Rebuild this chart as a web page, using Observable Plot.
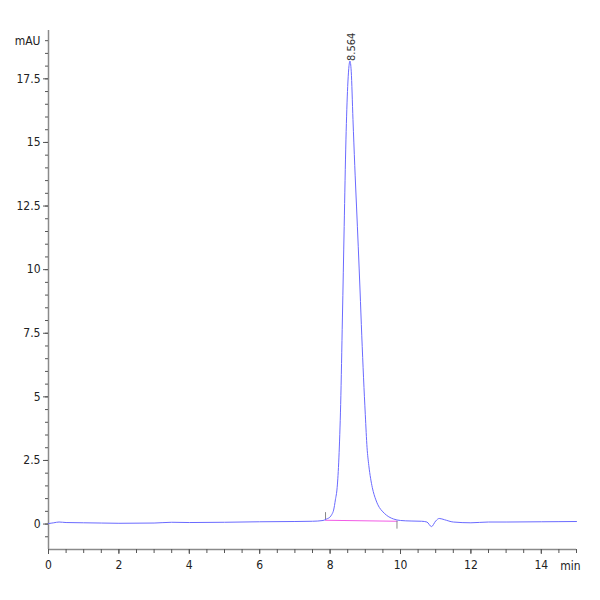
<!DOCTYPE html>
<html>
<head>
<meta charset="utf-8">
<script src="https://cdn.jsdelivr.net/npm/d3@7"></script>
<script src="https://cdn.jsdelivr.net/npm/@observablehq/plot@0.6"></script>
<style>
  html, body { margin: 0; padding: 0; background: #fff; }
  #chart svg { display: block; }
</style>
</head>
<body>
<div id="chart"></div>
<script>
// Chromatogram trace: retention time (min) and absorbance (mAU)
const times = [0, 0.15, 0.3, 0.5, 1.0, 1.5, 2.0, 3.0, 3.5, 4.0, 5.0, 6.0, 7.0, 7.5, 7.8, 7.9,
  8.0, 8.05, 8.1, 8.15, 8.2, 8.25, 8.3, 8.35, 8.4, 8.45, 8.5, 8.53, 8.564, 8.6, 8.65, 8.7,
  8.75, 8.8, 8.85, 8.9, 8.95, 9.0, 9.05, 9.1, 9.15, 9.2, 9.3, 9.4, 9.48, 9.6, 9.7, 9.8, 9.9,
  10.0, 10.3, 10.6, 10.75, 10.88, 11.0, 11.1, 11.25, 11.5, 12.0, 12.5, 13.0, 14.0, 15.0];
const signal = [0.02, 0.05, 0.08, 0.06, 0.05, 0.04, 0.03, 0.04, 0.07, 0.06, 0.07, 0.09, 0.10, 0.11, 0.14, 0.20,
  0.28, 0.38, 0.55, 0.95, 1.43, 2.6, 4.7, 8.1, 11.7, 15.1, 17.2, 17.9, 18.2, 17.8, 15.9, 14.1,
  12.5, 10.9, 9.2, 7.4, 5.75, 4.3, 3.0, 2.3, 1.8, 1.43, 0.95, 0.65, 0.51, 0.35, 0.26, 0.20, 0.16,
  0.14, 0.12, 0.11, 0.08, -0.10, 0.12, 0.22, 0.17, 0.08, 0.05, 0.08, 0.08, 0.09, 0.10];

// Integration baseline and start/stop markers
const baseTimes = [7.87, 9.9];
const baseValues = [0.15, 0.11];
const markerTop = [0.45, 0.11];
const markerBottom = [0.15, -0.2];
const peakTime = 8.564;
const peakHeight = 18.2;
const peakLabel = "8.564";

// Axis ticks
const xMajor = [0, 2, 4, 6, 8, 10, 12, 14];
const yMajor = [0, 2.5, 5, 7.5, 10, 12.5, 15, 17.5];
const xUnit = "min";
const yUnit = "mAU";

const trace = times.map((t, i) => ({t, v: signal[i]}));
const base = baseTimes.map((t, i) => ({t, v: baseValues[i], top: markerTop[i], bottom: markerBottom[i]}));

const font = "'Liberation Sans Narrow', 'DejaVu Sans Condensed', 'Liberation Sans', sans-serif";
const axisColor = "#8a8a8a";

const chart = Plot.plot({
  width: 600,
  height: 600,
  marginLeft: 48,
  marginRight: 24,
  marginTop: 30,
  marginBottom: 51,
  style: {fontFamily: font, fontSize: "12px", color: "#222", background: "#fff"},
  x: {domain: [0, 15]},
  y: {domain: [-1, 19.4]},
  marks: [
    // axis lines
    Plot.ruleX([0], {stroke: axisColor, strokeWidth: 1.5}),
    Plot.ruleY([-1], {stroke: axisColor, strokeWidth: 1.5}),
    // minor ticks
    Plot.axisX(d3.range(0, 15.001, 0.5), {tickSize: 4, text: null, stroke: "#555", label: null}),
    Plot.axisY(d3.range(-0.5, 19.001, 0.5), {tickSize: 3, text: null, stroke: "#555", label: null}),
    // major ticks
    Plot.axisX(xMajor, {tickSize: 5, tickPadding: 6, stroke: "#555", fill: "#222", fontSize: 12, label: null, tickFormat: d => String(d)}),
    Plot.axisY(yMajor, {tickSize: 5, tickPadding: 3, stroke: "#555", fill: "#222", fontSize: 12, label: null, tickFormat: d => String(d)}),
    // unit labels
    Plot.text([yUnit], {x: 0, y: 19, text: d => d, textAnchor: "end", dx: -8, fontSize: 12, fill: "#222"}),
    Plot.text([xUnit], {x: 15, y: -1, text: d => d, dy: 17, dx: -6, fontSize: 12, fill: "#222"}),
    // integration baseline and markers
    Plot.line(base, {x: "t", y: "v", stroke: "#f25ce6", strokeWidth: 1.2}),
    Plot.ruleX(base, {x: "t", y1: "bottom", y2: "top", stroke: "#888"}),
    // signal trace
    Plot.line(trace, {x: "t", y: "v", stroke: "#6a6aff", strokeWidth: 1, curve: "monotone-x"}),
    // peak label
    Plot.text([peakLabel], {x: peakTime, y: peakHeight, text: d => d, rotate: -90, textAnchor: "start", dy: 0, dx: 2, fontSize: 11, fill: "#333"})
  ]
});

document.getElementById("chart").appendChild(chart);
</script>
</body>
</html>
